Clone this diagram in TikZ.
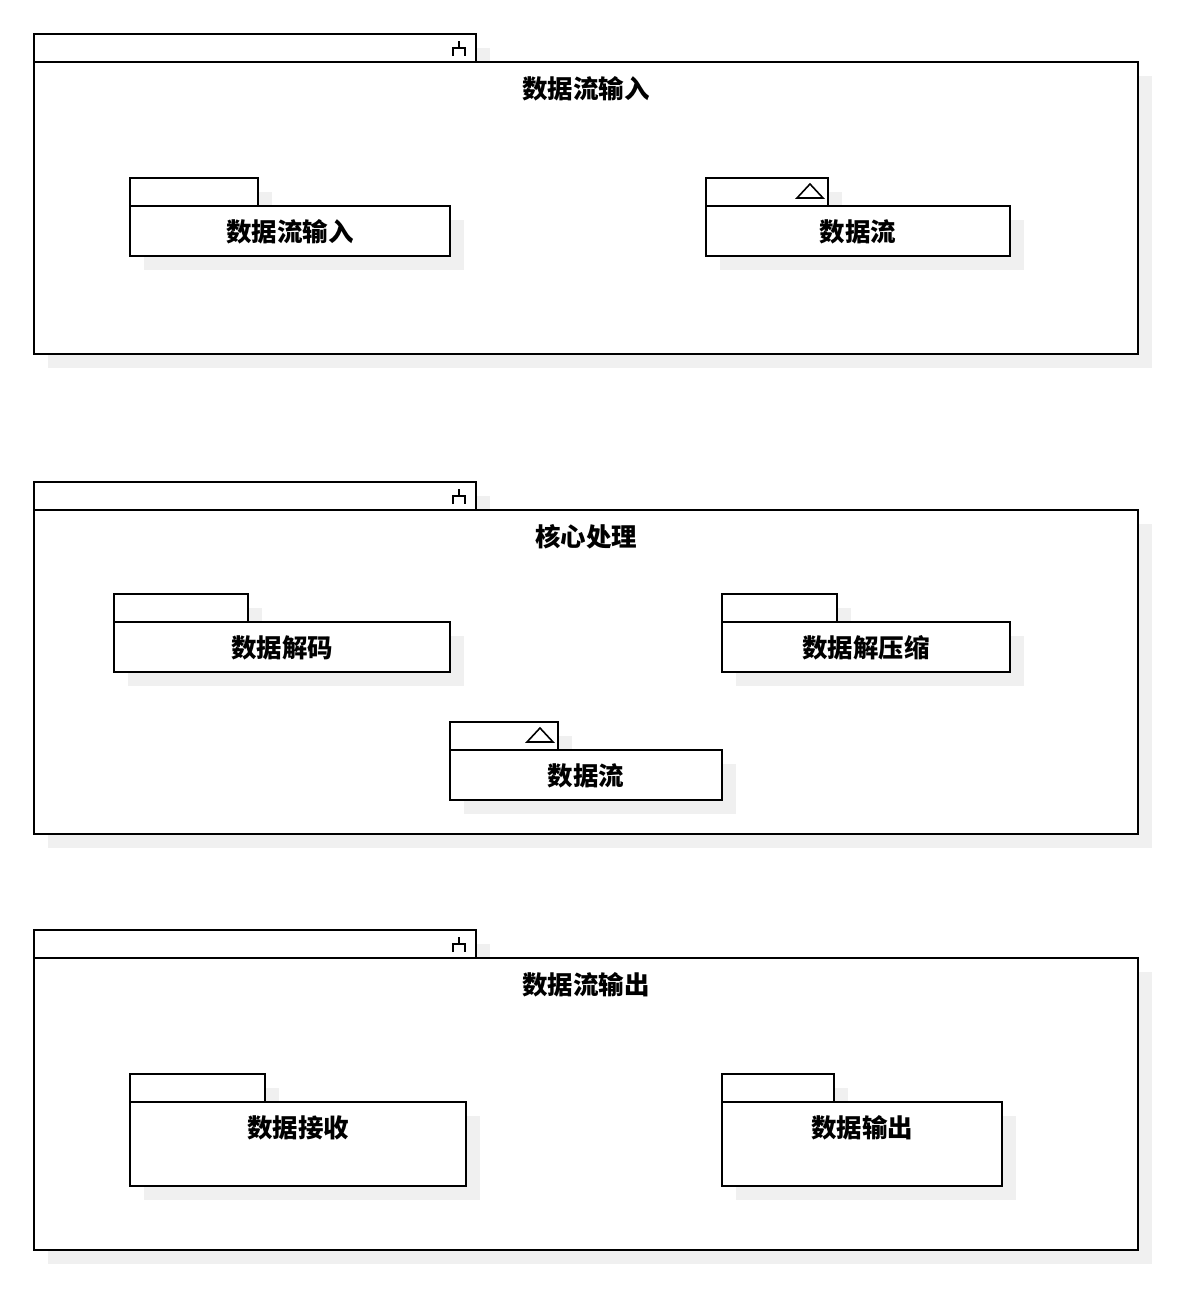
\documentclass[tikz,border=0pt]{standalone}
\usepackage{fontspec}
\newfontfamily\cjk{Noto Sans CJK SC}
\usetikzlibrary{positioning}

\begin{document}
\begin{tikzpicture}[
		x=0.2mm, y=-0.2mm,
		line width=1.1pt,
		box/.style={draw, fill=white},
		shade/.style={fill=black!6, draw=none},
		title/.style={font=\cjk\bfseries\fontsize{14.5}{16}\selectfont, inner sep=0pt},
		icon/.style={line width=0.9pt}
		]
		\useasboundingbox (0,0) rectangle (1204,1316);
		
		% outer packages: tab top, tab right, body bottom
		\foreach \t/\b in {34/354, 482/834, 930/1250} {
			\fill[shade] (48,{\t+14}) rectangle (490,{\t+42});
			\fill[shade] (48,{\t+42}) rectangle (1152,{\b+14});
			\draw[box] (34,\t) rectangle (476,{\t+28});
			\draw[box] (34,{\t+28}) rectangle (1138,\b);
			% fork icon
			\draw[icon] (459,{\t+7}) -- (459,{\t+14});
			\draw[icon] (453,{\t+22}) -- (453,{\t+14}) -- (465,{\t+14}) -- (465,{\t+22});
		}
		
		% inner packages: left, tab top, tab right, right, body bottom
		\foreach \l/\t/\r/\rr/\b in {130/178/258/450/256, 706/178/828/1010/256,
			114/594/248/450/672, 722/594/837/1010/672, 450/722/558/722/800,
			130/1074/265/466/1186, 722/1074/834/1002/1186} {
			\fill[shade] ({\l+14},{\t+14}) rectangle ({\r+14},{\t+42});
			\fill[shade] ({\l+14},{\t+42}) rectangle ({\rr+14},{\b+14});
			\draw[box] (\l,\t) rectangle (\r,{\t+28});
			\draw[box] (\l,{\t+28}) rectangle (\rr,\b);
		}
		
		% triangle icons
		\draw[icon] (797,198) -- (823,198) -- (810,184) -- cycle;
		\draw[icon] (527,742) -- (553,742) -- (540,728) -- cycle;
		
		% Input
		\node[title] (input) at (586,89) {数据流输入};
		\node[title] (inputpkg) at (290,232) {数据流输入};
		\node[title] (stream1) at (858,232) {数据流};
		
		% Core
		\node[title] (core) at (586,537) {核心处理};
		\node[title] (decode) at (282,648) {数据解码};
		\node[title] (unzip) at (866,648) {数据解压缩};
		\node[title] (stream2) at (586,776) {数据流};
		
		% Output
		\node[title] (output) at (586,985) {数据流输出};
		\node[title] (receive) at (298,1128) {数据接收};
		\node[title] (outpkg) at (862,1128) {数据输出};
		
	\end{tikzpicture}
\end{document}
